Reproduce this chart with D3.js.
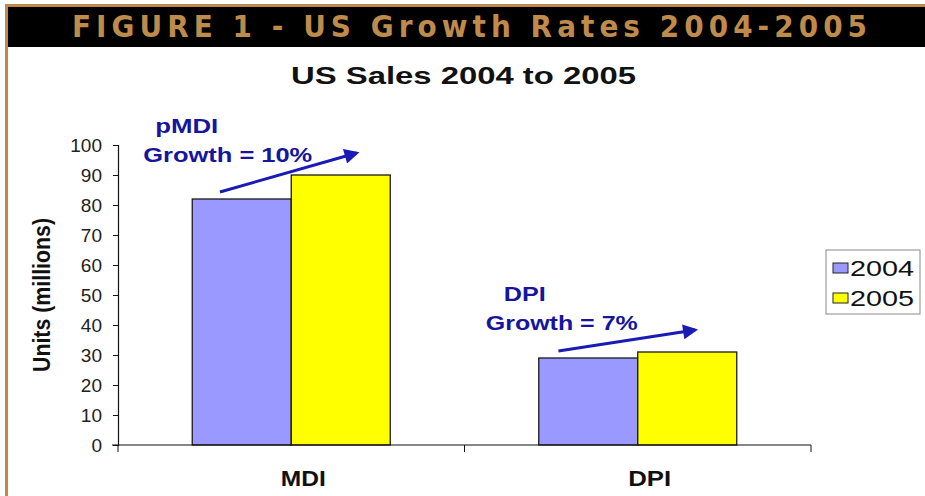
<!DOCTYPE html>
<html>
<head>
<meta charset="utf-8">
<script src="https://cdn.jsdelivr.net/npm/d3@7"></script>
<style>
  html, body { margin: 0; padding: 0; background: #fff; }
  svg { display: block; }
  text { font-family: "Liberation Sans", Arial, sans-serif; }
</style>
</head>
<body>
<svg id="chart" width="925" height="496"></svg>
<script>
// ---- data ----
const categories = ["MDI", "DPI"];
const series = ["2004", "2005"];
const values2004 = [82, 29];
const values2005 = [90, 31];
const yTicks = [0, 10, 20, 30, 40, 50, 60, 70, 80, 90, 100];
const growthLabels = [["pMDI", "Growth = 10%"], ["DPI", "Growth = 7%"]];
const figureTitle = "FIGURE 1 - US Growth Rates 2004-2005";
const chartTitle = "US Sales 2004 to 2005";
const yTitle = "Units (millions)";

const seriesValues = { "2004": values2004, "2005": values2005 };
const colors = { "2004": "#9999ff", "2005": "#ffff00" };

const svg = d3.select("#chart");
const W = 925, H = 496;
const gold = "#bf8b4b";
const noteBlue = "#15159e";
const arrowBlue = "#1a1ab4";

// ---- frame and header band ----
svg.append("rect").attr("x", 0).attr("y", 0).attr("width", W).attr("height", H).attr("fill", "#fff");
svg.append("rect").attr("x", 5).attr("y", 4).attr("width", W - 5).attr("height", 3).attr("fill", gold);
svg.append("rect").attr("x", 5).attr("y", 4).attr("width", 3).attr("height", H - 4).attr("fill", gold);
svg.append("rect").attr("x", 8).attr("y", 7).attr("width", W - 8).attr("height", 40).attr("fill", "#000");
svg.append("text")
  .attr("x", 72).attr("y", 37)
  .attr("textLength", 795).attr("lengthAdjust", "spacing")
  .style("font-family", "'Liberation Sans Narrow', 'DejaVu Sans Condensed', sans-serif")
  .style("font-weight", "bold").style("font-size", "31px")
  .attr("fill", gold)
  .text(figureTitle);

// ---- chart title ----
svg.append("text")
  .attr("x", 291).attr("y", 84)
  .attr("textLength", 345).attr("lengthAdjust", "spacingAndGlyphs")
  .style("font-weight", "bold").style("font-size", "24px")
  .attr("fill", "#111")
  .text(chartTitle);

// ---- scales ----
const plot = { left: 118, right: 811, top: 145, bottom: 445 };
const x0 = d3.scaleBand().domain(categories).range([plot.left, plot.right]).padding(0);
const x1 = d3.scaleBand().domain(series).range([0, x0.bandwidth()]).paddingInner(0).paddingOuter(0.75);
const y = d3.scaleLinear().domain([0, 100]).range([plot.bottom, plot.top]);

// ---- bars ----
const groups = svg.append("g").selectAll("g")
  .data(categories)
  .join("g")
  .attr("transform", d => `translate(${x0(d)},0)`);

groups.selectAll("rect")
  .data((c, i) => series.map(s => ({ s, v: seriesValues[s][i] })))
  .join("rect")
  .attr("x", d => x1(d.s))
  .attr("y", d => y(d.v))
  .attr("width", x1.bandwidth())
  .attr("height", d => y(0) - y(d.v))
  .attr("fill", d => colors[d.s])
  .attr("stroke", "#1a1a1a")
  .attr("stroke-width", 1.3);

// ---- axes ----
const yAxis = svg.append("g")
  .attr("transform", `translate(${plot.left},0)`)
  .call(d3.axisLeft(y).tickValues(yTicks).tickSize(5).tickPadding(11).tickFormat(d3.format("d")));
yAxis.select(".domain").attr("stroke", "#111").attr("stroke-width", 1.2);
yAxis.selectAll(".tick line").attr("stroke", "#111");
yAxis.selectAll("text").style("font-size", "19px").attr("fill", "#222");

svg.append("line")
  .attr("x1", plot.left - 6).attr("x2", plot.right)
  .attr("y1", plot.bottom).attr("y2", plot.bottom)
  .attr("stroke", "#111").attr("stroke-width", 1.2);
// category boundary ticks
const bounds = [plot.left, ...categories.map(c => x0(c) + x0.bandwidth())];
svg.append("g").selectAll("line").data(bounds).join("line")
  .attr("x1", d => d).attr("x2", d => d)
  .attr("y1", plot.bottom).attr("y2", plot.bottom + 7)
  .attr("stroke", "#111");

// category labels
const catWidths = { "MDI": 45, "DPI": 43 };
svg.append("g").selectAll("text").data(categories).join("text")
  .attr("x", d => x0(d) + x0.bandwidth() / 2 + 12 - catWidths[d] / 2)
  .attr("y", 486)
  .attr("textLength", d => catWidths[d]).attr("lengthAdjust", "spacingAndGlyphs")
  .style("font-weight", "bold").style("font-size", "22px")
  .attr("fill", "#111")
  .text(d => d);

// y axis title
svg.append("text")
  .attr("transform", `translate(50,${(plot.top + plot.bottom) / 2}) rotate(-90)`)
  .attr("x", -77)
  .attr("textLength", 154).attr("lengthAdjust", "spacingAndGlyphs")
  .style("font-weight", "bold").style("font-size", "23px")
  .attr("fill", "#111")
  .text(yTitle);

// ---- growth annotations ----
const noteLayout = {
  "MDI": { textDx: -49, titleDx: -37, lineDy: -37, titleDy: -66, w1: 63, w2: 169, arrowDx: 0 },
  "DPI": { textDx: -53, titleDx: -35, lineDy: -28, titleDy: -57, w1: 42, w2: 152, arrowDx: -8 }
};
const defs = svg.append("defs");
defs.append("marker")
  .attr("id", "arrowHead")
  .attr("viewBox", "0 0 10 10")
  .attr("refX", 8).attr("refY", 5)
  .attr("markerWidth", 7.5).attr("markerHeight", 5)
  .attr("markerUnits", "strokeWidth")
  .attr("orient", "auto")
  .append("path").attr("d", "M0,0 L10,5 L0,10 Z").attr("fill", arrowBlue);

categories.forEach((c, i) => {
  const L = noteLayout[c];
  const bx = x0(c) + x1("2004");
  const by = y(values2004[i]);
  svg.append("text")
    .attr("x", bx + L.titleDx).attr("y", by + L.titleDy)
    .attr("textLength", L.w1).attr("lengthAdjust", "spacingAndGlyphs")
    .style("font-weight", "bold").style("font-size", "21px")
    .attr("fill", noteBlue)
    .text(growthLabels[i][0]);
  svg.append("text")
    .attr("x", bx + L.textDx).attr("y", by + L.lineDy)
    .attr("textLength", L.w2).attr("lengthAdjust", "spacingAndGlyphs")
    .style("font-weight", "bold").style("font-size", "21px")
    .attr("fill", noteBlue)
    .text(growthLabels[i][1]);

  const sx = bx + x1.bandwidth() * 0.28 + L.arrowDx;
  const sy = y(values2004[i]) - 7;
  const ex = x0(c) + x1("2005") + x1.bandwidth() * 0.66 + L.arrowDx;
  const ey = y(values2005[i]) - 22;
  svg.append("line")
    .attr("x1", sx).attr("y1", sy).attr("x2", ex).attr("y2", ey)
    .attr("stroke", arrowBlue).attr("stroke-width", 3)
    .attr("marker-end", "url(#arrowHead)");
});

// ---- legend ----
const legend = svg.append("g").attr("transform", "translate(826,250)");
legend.append("rect").attr("width", 94).attr("height", 64)
  .attr("fill", "#fff").attr("stroke", "#8a8a8a").attr("stroke-width", 1);
series.forEach((s, i) => {
  const row = legend.append("g").attr("transform", `translate(0,${18 + i * 30})`);
  row.append("rect").attr("x", 7).attr("y", -5).attr("width", 15).attr("height", 10)
    .attr("fill", colors[s]).attr("stroke", "#222").attr("stroke-width", 1);
  row.append("text").attr("x", 24).attr("y", 8)
    .attr("textLength", 64).attr("lengthAdjust", "spacingAndGlyphs")
    .style("font-size", "22px").attr("fill", "#111")
    .text(s);
});
</script>
</body>
</html>
